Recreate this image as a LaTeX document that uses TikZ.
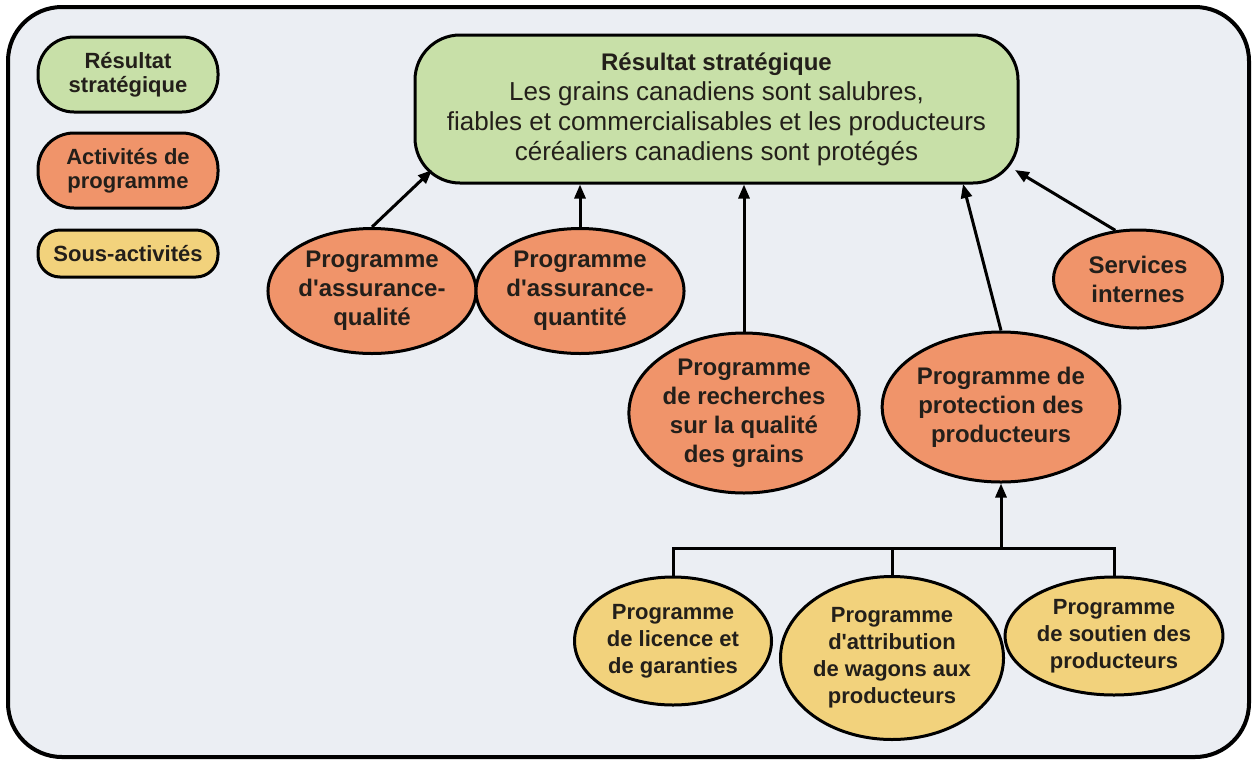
\documentclass[tikz,border=0pt]{standalone}
\usepackage{fontspec}
\setmainfont{Liberation Sans}
\usetikzlibrary{shapes.geometric,arrows.meta}
\definecolor{bgc}{HTML}{EBEEF3}
\definecolor{grn}{HTML}{C8E0A8}
\definecolor{org}{HTML}{F0946A}
\definecolor{ylw}{HTML}{F2D27C}
\definecolor{txt}{HTML}{231F1A}
\newcommand{\apos}{\textquotesingle}
\begin{document}
\begin{tikzpicture}[x=0.5pt,y=-0.5pt,
  ell/.style={ellipse, draw=black, line width=1.5pt, inner sep=0pt, align=center, text=txt},
  orgell/.style={ell, fill=org, font=\bfseries\fontsize{12}{14.5}\selectfont},
  ylwell/.style={ell, fill=ylw, font=\bfseries\fontsize{11}{13.5}\selectfont},
  leg/.style={draw=black, line width=1.5pt, minimum width=90pt, align=center, text=txt, font=\bfseries\fontsize{11}{12}\selectfont, inner sep=0pt},
  arr/.style={line width=1.5pt, -{Triangle[length=7pt,width=5.5pt]}},
  conn/.style={line width=1.5pt}]
\useasboundingbox (0,0) rectangle (1253,761);
\draw[fill=bgc, line width=2pt, rounded corners=27pt] (8,7) rectangle (1249,757);

% legend
\node[leg, fill=grn, minimum height=37.5pt, rounded corners=18pt] (lg1) at (128,74.5) {Résultat\\stratégique};
\node[leg, fill=org, minimum height=37.5pt, rounded corners=18pt] (lg2) at (128,170.5) {Activités de\\programme};
\node[leg, fill=ylw, minimum height=23.5pt, rounded corners=11pt] (lg3) at (128,253.5) {Sous-activités};

% top box
\node[draw=black, line width=1.5pt, fill=grn, rounded corners=22.5pt, minimum width=301.5pt, minimum height=74pt, align=center, text=txt, inner sep=0pt, font=\fontsize{13}{15}\selectfont] (box) at (716.5,109)
 {{\bfseries\fontsize{12}{15}\selectfont Résultat stratégique}\\Les grains canadiens sont salubres,\\fiables et commercialisables et les producteurs\\céréaliers canadiens sont protégés};

% program activities
\node[orgell, minimum width=97.5pt, minimum height=62.5pt] (q) at (372,291) {Programme\\d\apos assurance-\\qualité};
\node[orgell, minimum width=97.5pt, minimum height=62.5pt] (qt) at (580,291) {Programme\\d\apos assurance-\\quantité};
\node[orgell, minimum width=114pt, minimum height=80pt] (r) at (744,413) {Programme\\de recherches\\sur la qualité\\des grains};
\node[orgell, minimum width=116pt, minimum height=75pt] (p) at (1001,407) {Programme de\\protection des\\producteurs};
\node[orgell, minimum width=84.5pt, minimum height=49pt] (s) at (1138,279) {Services\\internes};

% sub-activities
\node[ylwell, minimum width=98.5pt, minimum height=64pt] (l) at (673,641) {Programme\\de licence et\\de garanties};
\node[ylwell, minimum width=104.5pt, minimum height=81.5pt] (a) at (892,658) {Programme\\d\apos attribution\\de wagons aux\\producteurs};
\node[ylwell, minimum width=106pt, minimum height=59pt] (sn) at (1114,636) {Programme\\de soutien des\\producteurs};

% connectors
\coordinate (e1) at (432,170);
\coordinate (e4) at (963,184);
\coordinate (e5) at (1015,170);
\coordinate (bus) at (1001,548);
\draw[arr] (q.north) -- (e1);
\draw[arr] (qt.north) -- (qt.north |- box.south);
\draw[arr] (r.north) -- (r.north |- box.south);
\draw[arr] (p.north) -- (e4);
\draw[arr] (s.115) -- (e5);
\draw[conn] (l.north) -- (l.north |- bus) -| (sn.north);
\draw[conn] (a.north) -- (a.north |- bus);
\draw[arr] (bus) -- (p.south);
\end{tikzpicture}
\end{document}
